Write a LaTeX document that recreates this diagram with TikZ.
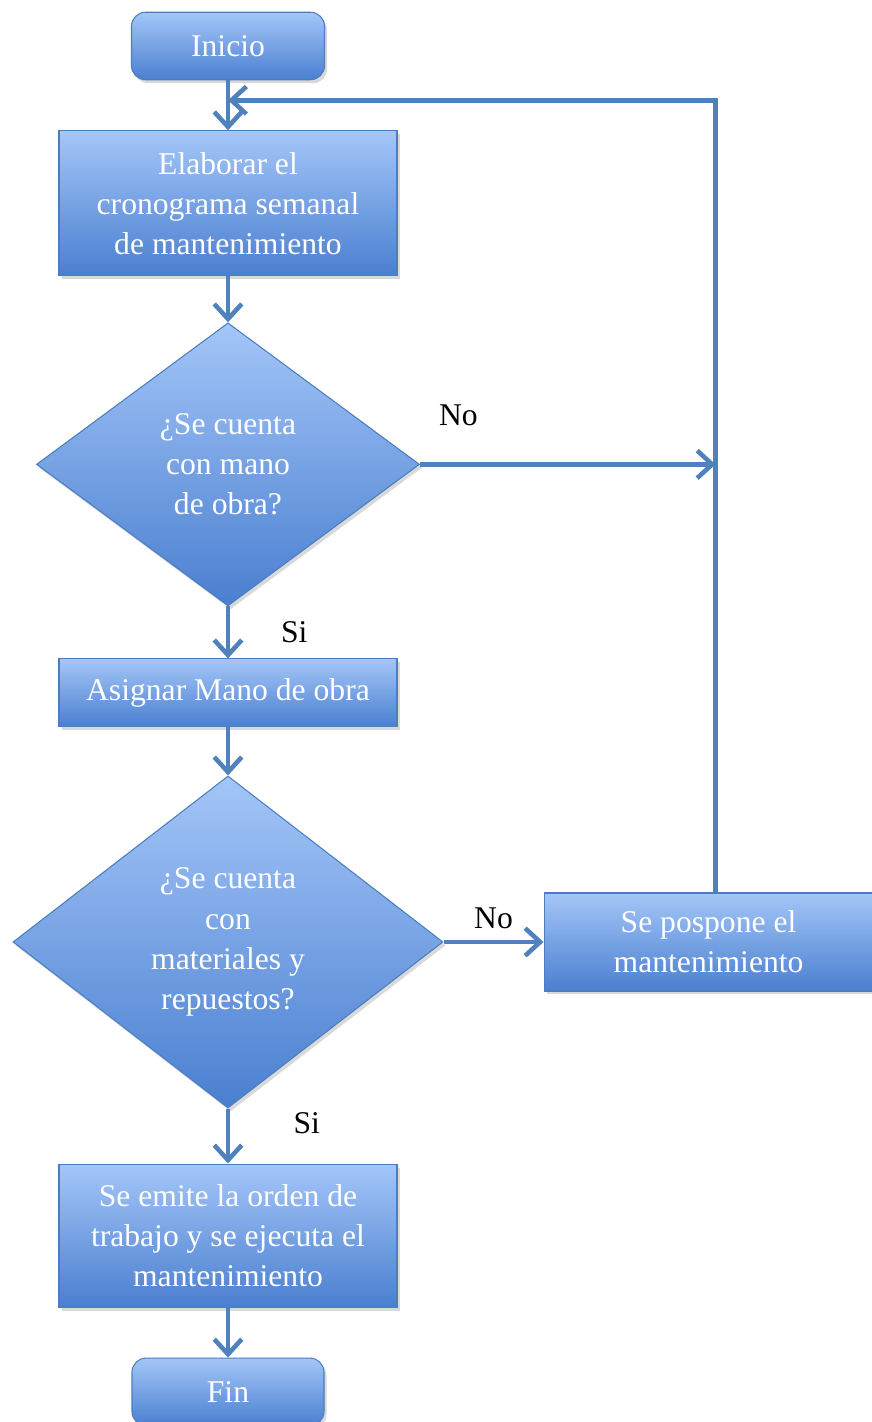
\documentclass[tikz,border=0pt]{standalone}
\usepackage{fontspec}
\setmainfont{Liberation Serif}
\usetikzlibrary{shapes.geometric, arrows.meta, positioning, shadows}
\definecolor{boxtop}{HTML}{A4C6F8}
\definecolor{boxbottom}{HTML}{4A7FD0}
\definecolor{boxedge}{HTML}{4A7EBF}
\definecolor{linkblue}{HTML}{4F81BD}
\tikzset{
  base/.style={align=center, draw=boxedge, line width=0.6pt,
    top color=boxtop, bottom color=boxbottom, text=white,
    font=\fontsize{18}{22.8}\selectfont, inner sep=2pt,
    drop shadow={opacity=0.3, shadow xshift=0.05cm, shadow yshift=-0.07cm}},
  block/.style={base, rectangle, minimum width=6.76cm, minimum height=1.36cm},
  startend/.style={base, rectangle, rounded corners=8pt,
    minimum width=3.86cm, minimum height=1.35cm},
  decision/.style={base, diamond, inner sep=0pt},
  arrow/.style={draw=linkblue, line width=2.6pt,
    -{Straight Barb[length=0.3cm, width=0.55cm]}},
  answer/.style={font=\fontsize{18}{22.8}\selectfont, text=black}
}
\begin{document}
\begin{tikzpicture}[node distance=1cm]
\useasboundingbox (0,0) rectangle (17.44,-28.44);
\node (inicio)   [startend] at (4.56,-0.92) {Inicio};
\node (elaborar) [block, minimum height=2.9cm, below=of inicio]
  {Elaborar el\\cronograma semanal\\de mantenimiento};
\node (manoobra) [decision, minimum width=7.66cm, minimum height=5.66cm,
  below=0.92cm of elaborar] {¿Se cuenta\\con mano\\de obra?};
\node (asignar)  [block, below=1.04cm of manoobra] {Asignar Mano de obra};
\node (material) [decision, minimum width=8.6cm, minimum height=6.64cm,
  below=0.96cm of asignar] {¿Se cuenta\\con\\materiales y\\repuestos?};
\node (emite)    [block, minimum height=2.86cm, below=1.1cm of material]
  {Se emite la orden de\\trabajo y se ejecuta el\\mantenimiento};
\node (fin)      [startend, minimum width=3.84cm, below=of emite] {Fin};
\node (pospone)  [block, minimum width=6.58cm, minimum height=1.96cm,
  right=2cm of material] {Se pospone el\\mantenimiento};

\coordinate (retorno) at ([yshift=-0.4cm]inicio.south);
\coordinate (subida) at ([xshift=0.14cm]pospone.north);

\draw[arrow] (inicio)   -- (elaborar);
\draw[arrow] (elaborar) -- (manoobra);
\draw[arrow] (manoobra) -- node[answer, right=0.9cm]{Si} (asignar);
\draw[arrow] (asignar)  -- (material);
\draw[arrow] (material) -- node[answer, right=1.15cm, yshift=0.25cm]{Si} (emite);
\draw[arrow] (emite)    -- (fin);
\draw[arrow] (material) -- node[answer, above=0.1cm]{No} (pospone);
\draw[arrow] (subida) |- (retorno);
\draw[arrow] (manoobra.east) -- (manoobra.east -| subida)
  node[answer, pos=0.13, above=0.6cm]{No};
\end{tikzpicture}
\end{document}
